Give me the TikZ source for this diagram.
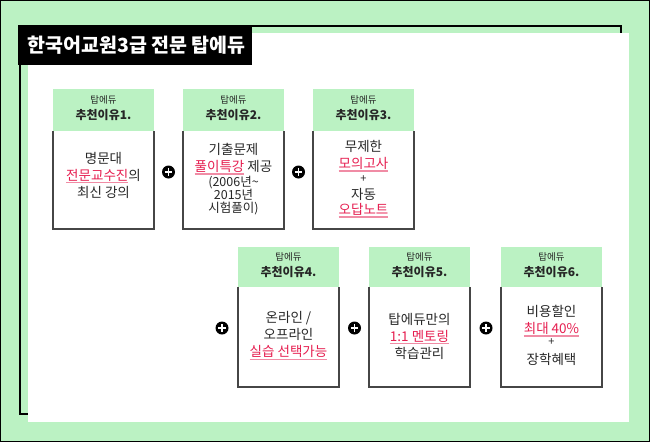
\documentclass[tikz,border=0pt]{standalone}
\usepackage{fontspec}
\setmainfont{Noto Sans CJK KR}
\usepackage{tikz}
\definecolor{tgreen}{RGB}{187,242,195}
\definecolor{tred}{RGB}{230,30,80}
\definecolor{tpink}{RGB}{240,140,165}
\definecolor{tgray}{RGB}{40,40,40}
\definecolor{tline}{RGB}{70,70,70}
\newsavebox{\hlbox}
\newcommand{\hl}[1]{\sbox{\hlbox}{\textcolor{tred}{#1}}\rlap{\textcolor{tpink}{\rule[-3.4pt]{\wd\hlbox}{1.4pt}}}\usebox{\hlbox}}
\newcommand{\smallline}{\fontsize{12.5}{14}\selectfont}
\newcommand{\tinyplus}{\fontsize{11}{11}\selectfont +}
\tikzset{
  headtext/.style={align=center, text=black!85, inner sep=0pt, font=\fontsize{12}{16}\selectfont},
  bodytext/.style={align=center, text=tgray, inner sep=0pt, font=\fontsize{13.5}{17}\selectfont},
  boxline/.style={draw=tline, line width=1.2pt},
  plus/.style={circle, fill=black, minimum size=13pt, inner sep=0pt},
}
% name, number, left, top, header height
\newcommand{\reason}[5]{
  \fill[tgreen] (#3,#4) rectangle ++(101,#5);
  \draw[boxline] (#3,#4+#5) -- (#3,#4+140) -- (#3+101,#4+140) -- (#3+101,#4+#5);
  \node[headtext] (#1) at (#3+50.5,#4+#5/2-2) {{\fontsize{9.5}{16}\selectfont 탑에듀}\\{\bfseries 추천이유#2.}};
}
\newcommand{\plusmark}[3]{
  \node[plus] (#1) at (#2,#3) {};
  \draw[white, line width=1.8pt] (#1.center) ++(-3.6,0) -- ++(7.2,0) (#1.center) ++(0,-3.6) -- ++(0,7.2);
}

\begin{document}
\begin{tikzpicture}[x=1pt,y=-1pt]
        \useasboundingbox (0,0) rectangle (650,442);
        % frame
        \fill[tgreen] (0,0) rectangle (650,442);
        \draw[black, line width=1pt] (0.5,0.5) rectangle (649.5,441.5);
        \draw[black, line width=1.6pt] (19.8,25.8) rectangle (621,414);
        \fill[white] (28,33) rectangle (629,422);

        % title
        \fill[black] (18,25) rectangle (252,65);
        \node[text=white, font=\fontsize{19.5}{20}\selectfont\bfseries, inner sep=0pt] (title) at (136.5,45) {한국어교원3급 전문 탑에듀};

        % row 1
        \reason{h1}{1}{53}{89}{42}
        \reason{h2}{2}{183}{89}{42}
        \reason{h3}{3}{313}{89}{42}

        \node[bodytext] (b1) at (103.5,175) {명문대\\\hl{전문교수진}의\\최신 강의};
        \node[bodytext] (b2) at (233.5,179) {기출문제\\\hl{풀이특강} 제공\\[-2pt]{\smallline (2006년\textasciitilde}\\[-4pt]{\smallline 2015년}\\[-4pt]{\smallline 시험풀이)}};
        \node[bodytext] (b3) at (363.5,179) {무제한\\\hl{모의고사}\\[-3pt]{\tinyplus}\\[0pt]자동\\[-2pt]\hl{오답노트}};

        \plusmark{p1}{168.5}{172}
        \plusmark{p2}{298.5}{172}

        % row 2
        \reason{h4}{4}{238}{247}{40}
        \reason{h5}{5}{369}{247}{40}
        \reason{h6}{6}{501}{247}{40}

        \node[bodytext] (b4) at (288.5,336) {온라인 /\\오프라인\\\hl{실습 선택가능}};
        \node[bodytext] (b5) at (419.5,336) {탑에듀만의\\\hl{1:1 멘토링}\\학습관리};
        \node[bodytext] (b6) at (551.5,335) {비용할인\\\hl{최대 40\%}\\[-5pt]{\tinyplus}\\[2pt]장학혜택};

        \plusmark{p3}{222}{328}
        \plusmark{p4}{354.5}{328}
        \plusmark{p5}{486}{328}
\end{tikzpicture}
\end{document}
